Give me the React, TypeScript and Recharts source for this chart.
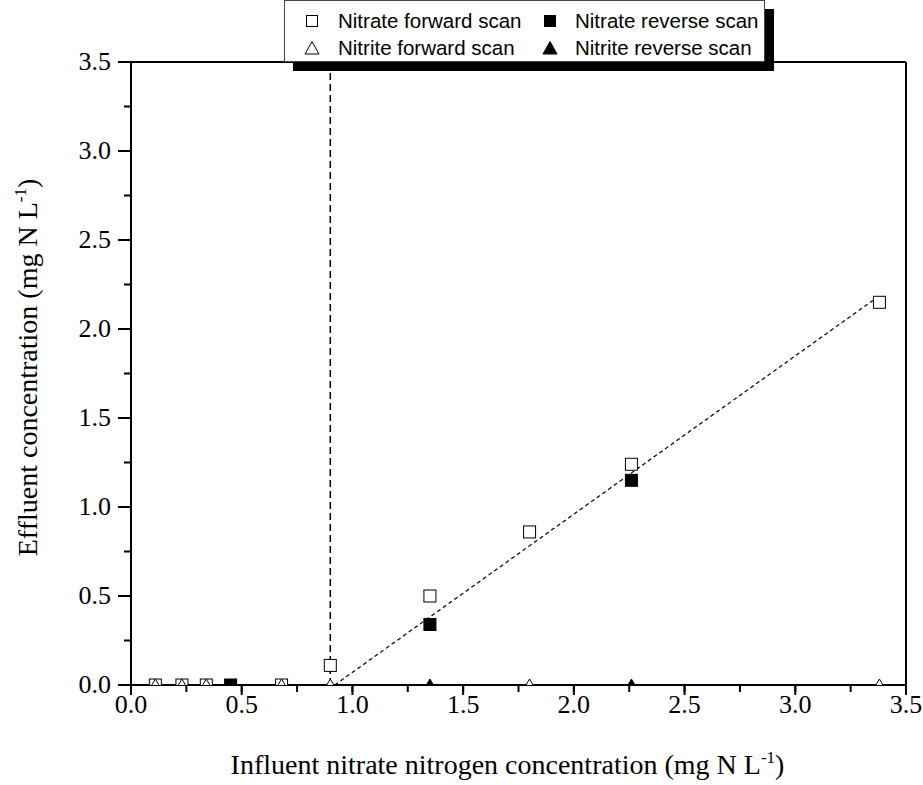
import React from 'react';
import { ScatterChart, Scatter, XAxis, YAxis, ReferenceLine, Label } from 'recharts';

// influent nitrate (mg N/L) vs effluent concentration (mg N/L)
const nitrateFwdX = [0.11, 0.23, 0.34, 0.68, 0.9, 1.35, 1.8, 2.26, 3.38];
const nitrateFwdY = [0, 0, 0, 0, 0.11, 0.5, 0.86, 1.24, 2.15];
const nitrateRevX = [0.45, 1.35, 2.26];
const nitrateRevY = [0, 0.34, 1.15];
const nitriteFwdX = [0.11, 0.23, 0.34, 0.68, 0.9, 1.8, 3.38];
const nitriteFwdY = [0, 0, 0, 0, 0, 0, 0];
const nitriteRevX = [0.45, 1.35, 2.26];
const nitriteRevY = [0, 0, 0];

// fitted line and threshold
const fitX = [0.92, 3.35];
const fitY = [0, 2.16];
const thresholdX = 0.9;

const axisTicks = [0, 0.25, 0.5, 0.75, 1, 1.25, 1.5, 1.75, 2, 2.25, 2.5, 2.75, 3, 3.25, 3.5];

const legendItems = [
  { label: 'Nitrate forward scan', shape: 'square', filled: false },
  { label: 'Nitrate reverse scan', shape: 'square', filled: true },
  { label: 'Nitrite forward scan', shape: 'triangle', filled: false },
  { label: 'Nitrite reverse scan', shape: 'triangle', filled: true },
];

const zip = (xs: number[], ys: number[]) => xs.map((x, i) => ({ x, y: ys[i] }));

const SERIF = '"Liberation Serif", "Times New Roman", serif';
const SANS = '"Liberation Sans", Arial, sans-serif';

const isMajor = (v: number) => Math.abs(v * 2 - Math.round(v * 2)) < 1e-6;

// built-in tick line is 7px (minor); majors get extended to 10px here
function XTick({ x, y, payload }: any) {
  const v = payload.value as number;
  if (!isMajor(v)) return <g />;
  return (
    <g>
      <line x1={x} x2={x} y1={y - 7} y2={y + 3} stroke="#000" strokeWidth={2} />
      <text x={x} y={y + 21} textAnchor="middle" fontFamily={SERIF} fontSize={26} fill="#000">
        {v.toFixed(1)}
      </text>
    </g>
  );
}

function YTick({ x, y, payload }: any) {
  const v = payload.value as number;
  if (!isMajor(v)) return <g />;
  return (
    <g>
      <line x1={x - 6} x2={x + 7} y1={y} y2={y} stroke="#000" strokeWidth={2} />
      <text x={x - 13} y={y + 8} textAnchor="end" fontFamily={SERIF} fontSize={26} fill="#000">
        {v.toFixed(1)}
      </text>
    </g>
  );
}

const square = (filled: boolean) => (p: any) => (
  <rect x={p.cx - 6} y={p.cy - 6} width={12} height={12} fill={filled ? '#000' : '#fff'} stroke="#000" strokeWidth={1} />
);

const triangle = (filled: boolean) => (p: any) => (
  <polygon
    points={`${p.cx},${p.cy - 6} ${p.cx - 6.5},${p.cy + 5} ${p.cx + 6.5},${p.cy + 5}`}
    fill={filled ? '#000' : '#fff'}
    stroke="#000"
    strokeWidth={1}
  />
);

function LegendSymbol({ shape, filled }: { shape: string; filled: boolean }) {
  return (
    <svg width={16} height={16} style={{ display: 'block' }}>
      {shape === 'square' ? (
        <rect x={2.5} y={2.5} width={11} height={11} fill={filled ? '#000' : '#fff'} stroke="#000" strokeWidth={1} />
      ) : (
        <polygon points="8,1.5 1,14 15,14" fill={filled ? '#000' : '#fff'} stroke="#000" strokeWidth={1} />
      )}
    </svg>
  );
}

function LegendBox() {
  const cols = [19, 257];
  const textCols = [53, 290];
  const rows = [20, 47];
  return (
    <div
      style={{
        position: 'absolute',
        left: 284,
        top: 0,
        width: 479,
        height: 60,
        border: '1px solid #444',
        background: '#fff',
        boxShadow: '9px 9px 0 #000',
        fontFamily: SANS,
        fontSize: 20.5,
        color: '#000',
      }}
    >
      {legendItems.map((item, i) => {
        const c = i % 2;
        const r = Math.floor(i / 2);
        return (
          <React.Fragment key={item.label}>
            <div style={{ position: 'absolute', left: cols[c], top: rows[r] - 8 }}>
              <LegendSymbol shape={item.shape} filled={item.filled} />
            </div>
            <div style={{ position: 'absolute', left: textCols[c], top: rows[r] - 12, lineHeight: '24px', whiteSpace: 'nowrap' }}>
              {item.label}
            </div>
          </React.Fragment>
        );
      })}
    </div>
  );
}

const renderXLabel = (props: any) => {
  const vb = props.viewBox;
  return (
    <text x={vb.x + vb.width / 2 - 11} y={vb.y + 89} textAnchor="middle" fontFamily={SERIF} fontSize={28} fill="#000">
      Influent nitrate nitrogen concentration (mg N L
      <tspan dy={-11} fontSize={17}>-1</tspan>
      <tspan dy={11}>)</tspan>
    </text>
  );
};

const renderYLabel = (props: any) => {
  const vb = props.viewBox;
  const cy = vb.y + vb.height / 2 - 6;
  return (
    <text x={37} y={cy} transform={`rotate(-90 37 ${cy})`} textAnchor="middle" fontFamily={SERIF} fontSize={28} fill="#000">
      Effluent concentration (mg N L
      <tspan dy={-11} fontSize={17}>-1</tspan>
      <tspan dy={11}>)</tspan>
    </text>
  );
};

export default function App() {
  return (
    <div style={{ position: 'absolute', left: 0, top: 0, width: 923, height: 785, background: '#fff' }}>
      <ScatterChart width={923} height={785} margin={{ top: 62, right: 17, bottom: 0, left: 0 }}>
        <XAxis
          type="number"
          dataKey="x"
          domain={[0, 3.5]}
          ticks={axisTicks}
          interval={0}
          allowDataOverflow
          height={100}
          tickSize={7}
          tickMargin={0}
          tickLine={{ stroke: '#000', strokeWidth: 2 }}
          tick={<XTick />}
          axisLine={{ stroke: '#000', strokeWidth: 2 }}
        >
          <Label content={renderXLabel} />
        </XAxis>
        <YAxis
          type="number"
          dataKey="y"
          domain={[0, 3.5]}
          ticks={axisTicks}
          interval={0}
          allowDataOverflow
          width={131}
          tickSize={7}
          tickMargin={0}
          tickLine={{ stroke: '#000', strokeWidth: 2 }}
          tick={<YTick />}
          axisLine={{ stroke: '#000', strokeWidth: 2 }}
        >
          <Label content={renderYLabel} />
        </YAxis>
        <ReferenceLine y={3.5} stroke="#000" strokeWidth={2} />
        <ReferenceLine x={3.5} stroke="#000" strokeWidth={2} />
        <ReferenceLine x={thresholdX} stroke="#000" strokeWidth={1.5} strokeDasharray="7 4" />
        <ReferenceLine
          segment={[
            { x: fitX[0], y: fitY[0] },
            { x: fitX[1], y: fitY[1] },
          ]}
          stroke="#000"
          strokeWidth={1.2}
          strokeDasharray="4 3"
        />
        <Scatter data={zip(nitrateFwdX, nitrateFwdY)} shape={square(false)} isAnimationActive={false} />
        <Scatter data={zip(nitrateRevX, nitrateRevY)} shape={square(true)} isAnimationActive={false} />
        <Scatter data={zip(nitriteFwdX, nitriteFwdY)} shape={triangle(false)} isAnimationActive={false} />
        <Scatter data={zip(nitriteRevX, nitriteRevY)} shape={triangle(true)} isAnimationActive={false} />
      </ScatterChart>
      <LegendBox />
    </div>
  );
}
